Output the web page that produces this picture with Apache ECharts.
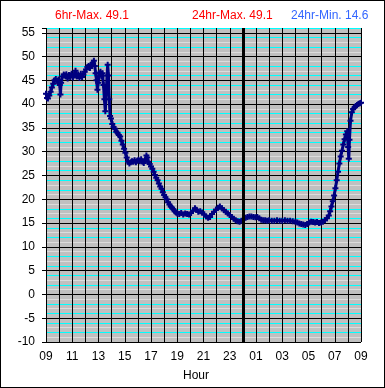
<!DOCTYPE html>
<html><head><meta charset="utf-8">
<script src="https://cdn.jsdelivr.net/npm/echarts@6/dist/echarts.min.js"></script>
<style>
html,body{margin:0;padding:0;background:#fff;}
#c{width:385px;height:388px;box-sizing:border-box;border:1px solid #000;}
</style></head>
<body><div id="c"></div>
<script>
// hours elapsed since 09:00
const hours = [0.00,0.08,0.15,0.25,0.35,0.45,0.55,0.65,0.75,0.85,0.95,1.05,1.10,1.15,1.25,1.35,1.45,1.55,1.65,1.75,1.85,1.95,2.05,2.15,2.25,2.35,2.45,2.55,2.65,2.75,2.85,2.95,3.05,3.15,3.25,3.35,3.45,3.55,3.65,3.72,3.78,3.85,3.92,3.98,4.05,4.15,4.22,4.30,4.38,4.45,4.52,4.58,4.65,4.70,4.76,4.82,4.88,4.95,5.05,5.15,5.25,5.35,5.45,5.55,5.65,5.75,5.85,5.95,6.05,6.15,6.25,6.35,6.45,6.55,6.65,6.75,6.85,6.95,7.05,7.15,7.25,7.35,7.45,7.55,7.65,7.72,7.80,7.90,8.00,8.10,8.20,8.30,8.40,8.50,8.60,8.70,8.80,8.90,9.00,9.10,9.20,9.30,9.40,9.50,9.60,9.70,9.80,9.90,10.00,10.15,10.30,10.45,10.60,10.75,10.90,11.05,11.20,11.35,11.45,11.60,11.75,11.90,12.05,12.20,12.35,12.50,12.65,12.80,12.95,13.10,13.25,13.40,13.55,13.70,13.85,14.00,14.15,14.30,14.45,14.60,14.75,14.90,15.05,15.20,15.35,15.50,15.65,15.80,15.95,16.10,16.25,16.40,16.55,16.70,16.85,17.00,17.20,17.40,17.60,17.80,18.00,18.20,18.40,18.60,18.80,19.00,19.15,19.30,19.45,19.60,19.75,19.90,20.05,20.20,20.35,20.50,20.65,20.80,20.95,21.10,21.25,21.40,21.55,21.65,21.75,21.85,21.95,22.05,22.15,22.25,22.35,22.45,22.55,22.65,22.75,22.85,22.95,23.02,23.07,23.12,23.20,23.30,23.40,23.50,23.60,23.70,23.80,23.90,24.00];
const temps = [42.2,41.3,41.2,41.8,42.6,43.5,44.3,45.0,45.3,44.8,45.2,44.0,42.0,44.5,45.8,46.2,46.0,46.3,45.4,46.1,45.7,46.4,45.6,46.3,47.0,45.8,46.2,45.5,46.4,45.7,46.2,46.8,47.3,47.8,48.0,47.6,48.3,48.7,49.1,48.0,46.5,45.0,43.0,44.5,46.5,46.8,45.8,46.5,44.0,41.0,38.5,42.0,46.0,48.3,46.0,41.0,37.5,37.0,35.8,35.2,34.8,34.2,34.0,33.5,33.2,32.3,31.5,30.6,29.8,28.8,27.9,27.5,27.8,28.0,27.9,28.2,27.8,28.1,28.3,28.0,28.4,27.9,27.6,28.2,29.2,28.8,27.9,27.4,26.9,26.4,25.8,25.1,24.5,24.0,23.3,22.7,22.2,21.5,20.9,20.4,20.0,19.4,18.9,18.5,18.2,17.9,17.5,17.2,17.0,16.9,17.1,16.8,17.0,16.9,16.8,17.1,17.6,18.1,17.8,17.4,17.5,17.2,16.8,16.4,16.1,16.3,16.9,17.4,17.8,18.2,18.5,18.1,17.7,17.4,17.0,16.7,16.3,15.9,15.6,15.4,15.3,15.5,15.8,16.1,16.3,16.4,16.4,16.3,16.2,16.3,16.0,15.7,15.6,15.6,15.5,15.6,15.5,15.5,15.6,15.5,15.5,15.6,15.5,15.5,15.4,15.3,15.1,14.9,14.8,14.7,14.6,14.8,15.1,15.3,15.2,15.1,15.2,15.0,15.1,15.3,15.6,16.0,16.6,17.5,18.5,19.6,20.8,22.3,24.0,25.8,27.5,29.0,30.2,31.5,32.6,33.6,34.3,31.0,28.5,32.5,36.5,38.3,39.0,39.3,39.6,39.8,40.0,40.2,40.3];
const startHour = 9;
const midnightOffset = 15;
const yTicks = [-10,-5,0,5,10,15,20,25,30,35,40,45,50,55];
const headerTexts = ['6hr-Max. 49.1','24hr-Max. 49.1','24hr-Min. 14.6'];
const xTitle = 'Hour';

const font = 'Liberation Sans, Arial, sans-serif';
const minorColors = ['#000000','#dcdcdc','#00ffff','#dcdcdc','#00ffff','#000000','#00ffff','#dcdcdc','#00ffff','#dcdcdc'];
const data = hours.map((h,i)=>[h,temps[i]]);
const chart = echarts.init(document.getElementById('c'));
const ts = (c)=>({color:c,fontSize:12,fontWeight:'normal',fontFamily:font});
chart.setOption({
  animation:false,
  backgroundColor:'#ffffff',
  title:[
    {text:headerTexts[0],left:54,top:9,padding:0,textStyle:ts('#ff0000')},
    {text:headerTexts[1],left:191,top:9,padding:0,textStyle:ts('#ff0000')},
    {text:headerTexts[2],left:290,top:9,padding:0,textStyle:ts('#3366ff')},
    {text:xTitle,left:182,top:369,padding:0,textStyle:ts('#000000')}
  ],
  grid:{left:45,right:23,top:27,bottom:45,show:true,backgroundColor:'#c0c0c0',borderWidth:0},
  xAxis:{
    type:'value',min:0,max:24,interval:2,
    axisLine:{show:true,lineStyle:{color:'#000',width:1}},
    axisTick:{show:true,length:4,lineStyle:{color:'#000'}},
    axisLabel:{color:'#000',fontSize:12,fontFamily:font,margin:9,
      formatter:v=>String((startHour+v)%24).padStart(2,'0')},
    splitLine:{show:true,lineStyle:{color:'#000',width:1}},
    minorTick:{show:false,splitNumber:2},
    minorSplitLine:{show:true,lineStyle:{color:'#000',width:1}}
  },
  yAxis:[
    {type:'value',min:-10,max:56,interval:5,
     axisLine:{show:false},
     axisTick:{show:true,length:4,lineStyle:{color:'#000'}},
     axisLabel:{color:'#000',fontSize:12,fontFamily:font,margin:11,
       formatter:v=>yTicks.includes(v)?String(v):''},
     splitLine:{show:false}},
    {type:'value',min:-10,max:56,interval:1,
     axisLine:{show:false},axisTick:{show:false},axisLabel:{show:false},
     splitLine:{show:true,lineStyle:{color:minorColors,width:1}}}
  ],
  series:[{
    type:'line',data:data,yAxisIndex:0,
    symbol:'path://M2,0 L4,0 L4,2 L6,2 L6,4 L4,4 L4,6 L2,6 L2,4 L0,4 L0,2 L2,2 Z',
    symbolSize:6,showAllSymbol:true,
    itemStyle:{color:'#000080'},
    lineStyle:{color:'#000080',width:3},
    markLine:{silent:true,symbol:'none',label:{show:false},
      lineStyle:{color:'#000',width:3,type:'solid'},
      data:[{xAxis:midnightOffset}]}
  }]
});
</script></body></html>
